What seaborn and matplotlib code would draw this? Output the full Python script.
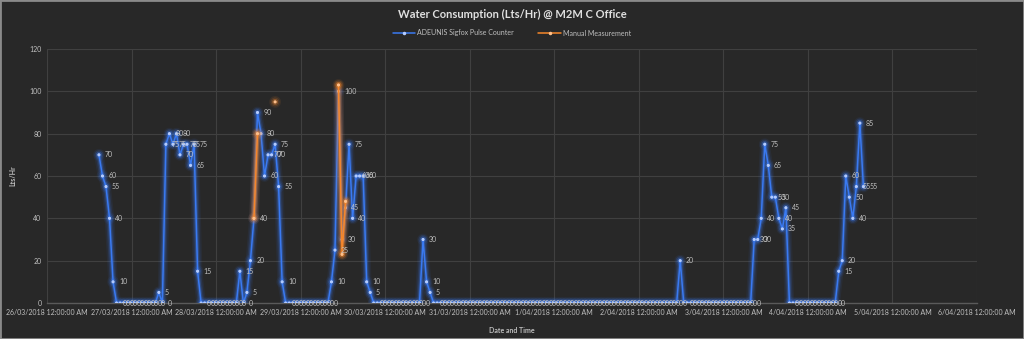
import matplotlib
matplotlib.use("Agg")
import matplotlib.pyplot as plt
import matplotlib.dates as mdates
import matplotlib.patheffects as pe
from matplotlib.lines import Line2D
from matplotlib.patches import Rectangle
import seaborn as sns
import pandas as pd
import numpy as np

# ---------------- data ----------------
start_time = "2018-03-26 14:45"
sensor_values = [
    70, 60, 55, 40, 10,
    0, 0, 0, 0, 0, 0, 0, 0, 0, 0, 0, 0,
    5, 0,
    75, 80, 75, 80, 70, 75, 75, 65, 75, 15,
    0, 0, 0, 0, 0, 0, 0, 0, 0, 0, 0,
    15, 0, 5, 20, 40, 90, 80, 60, 70, 70, 75, 55, 10,
    0, 0, 0, 0, 0, 0, 0, 0, 0, 0, 0, 0, 0,
    10, 25, 100, 30, 45, 75, 40, 60, 60, 60, 10, 5,
    0, 0, 0, 0, 0, 0, 0, 0, 0, 0, 0, 0, 0, 0,
    30, 10, 5,
    0, 0, 0, 0, 0, 0, 0, 0, 0, 0,
    0, 0, 0, 0, 0, 0, 0, 0, 0, 0,
    0, 0, 0, 0, 0, 0, 0, 0, 0, 0,
    0, 0, 0, 0, 0, 0, 0, 0, 0, 0,
    0, 0, 0, 0, 0, 0, 0, 0, 0, 0,
    0, 0, 0, 0, 0, 0, 0, 0, 0, 0,
    0, 0, 0, 0, 0, 0, 0, 0, 0, 0,
    20,
    0, 0, 0, 0, 0, 0, 0, 0, 0, 0,
    0, 0, 0, 0, 0, 0, 0, 0, 0, 0,
    30, 30, 40, 75, 65, 50, 50, 40, 35, 45,
    0, 0, 0, 0, 0, 0, 0, 0, 0, 0, 0, 0, 0, 0,
    15, 20, 60, 50, 40, 55, 85, 55,
]
manual_times = ["2018-03-28 10:45", "2018-03-28 11:45", "2018-03-28 16:45",
                "2018-03-29 10:45", "2018-03-29 11:45", "2018-03-29 12:45"]
manual_values = [40, 80, 95, 103, 23, 48]
manual_segment = [1, 1, 2, 3, 3, 3]

series_names = ["ADEUNIS Sigfox Pulse Counter", "Manual Measurement"]
title = "Water Consumption (Lts/Hr) @ M2M C Office"
x_label = "Date and Time"
y_label = "Lts/Hr"
day_ticks = pd.date_range("2018-03-26", "2018-04-06", freq="D")

# ---------------- frames ----------------
sensor_df = pd.DataFrame({
    "time": pd.date_range(start_time, periods=len(sensor_values), freq="h"),
    "value": sensor_values,
})
manual_df = pd.DataFrame({
    "time": pd.to_datetime(manual_times),
    "value": manual_values,
    "seg": manual_segment,
})

# ---------------- style ----------------
BG = "#282828"
GRID = "#404040"
TXT = "#bfbfbf"
BLUE = "#3a7af2"
BLUE_M = "#b4ccff"
ORANGE = "#f5862a"
ORANGE_M = "#ffc08a"
FONT = ["Lato", "DejaVu Sans"]

sns.set_theme(style="dark")
plt.rcParams["font.family"] = FONT

fig = plt.figure(figsize=(10.24, 3.39), dpi=100, facecolor=BG)
ax = fig.add_axes([47 / 1024, 1 - 303 / 339, (977 - 47) / 1024, (303 - 49) / 339])
ax.set_facecolor(BG)


def glow(color, a=1.0):
    return [pe.Stroke(linewidth=7, foreground=color, alpha=0.07 * a),
            pe.Stroke(linewidth=4.8, foreground=color, alpha=0.14 * a),
            pe.Stroke(linewidth=2.8, foreground=color, alpha=0.3 * a),
            pe.Normal()]


sns.lineplot(data=sensor_df, x="time", y="value", ax=ax, color=BLUE,
             linewidth=1.1, marker="o", markersize=1.5,
             markerfacecolor=BLUE_M, markeredgecolor=BLUE_M,
             legend=False, path_effects=glow(BLUE), zorder=3)
sns.lineplot(data=manual_df, x="time", y="value", units="seg", estimator=None,
             ax=ax, color=ORANGE, linewidth=1.1, marker="o", markersize=1.5,
             markerfacecolor=ORANGE_M, markeredgecolor=ORANGE_M,
             legend=False, path_effects=glow(ORANGE, 1.3), zorder=4)

# data labels for the pulse counter
for t, v in zip(sensor_df["time"], sensor_df["value"]):
    ax.annotate(str(v), xy=(mdates.date2num(t), v), xytext=(4.2, 0),
                textcoords="offset points", ha="left", va="center",
                fontsize=5, color=TXT, zorder=5)

# axes
ax.set_xlim(day_ticks[0], day_ticks[-1])
ax.set_ylim(0, 120)
ax.set_yticks(np.arange(0, 121, 20))
ax.set_xticks(day_ticks)
ax.set_xticklabels([f"{d.day}/{d.month:02d}/{d.year} 12:00:00 AM" for d in day_ticks])
ax.tick_params(axis="both", colors=TXT, labelsize=5, length=0, pad=4)
ax.grid(True, color=GRID, linewidth=0.8)
for side in ["top", "right", "left"]:
    ax.spines[side].set_visible(False)
ax.spines["bottom"].set_color("#5a5a5a")
ax.spines["bottom"].set_linewidth(1.0)
ax.set_xlabel(x_label, fontsize=5, color=TXT, fontweight="bold", labelpad=8)
ax.set_ylabel(y_label, fontsize=5, color=TXT, fontweight="bold", labelpad=9)

fig.text(0.5, 1 - 14 / 339, title, ha="center", va="center",
         fontsize=8, fontweight="bold", color="#e0e0e0")

handles = [
    Line2D([], [], color=BLUE, lw=1.1, marker="o", markersize=1.5,
           markerfacecolor=BLUE_M, markeredgecolor=BLUE_M),
    Line2D([], [], color=ORANGE, lw=1.1, marker="o", markersize=1.5,
           markerfacecolor=ORANGE_M, markeredgecolor=ORANGE_M),
]
leg = ax.legend(handles, series_names, loc="center",
                bbox_to_anchor=(0.5, 1 - 33 / 339), bbox_transform=fig.transFigure,
                ncol=2, frameon=False, fontsize=5, handlelength=3.2,
                columnspacing=3.5, handletextpad=0.3)
for t in leg.get_texts():
    t.set_color(TXT)

fig.patches.append(Rectangle((0, 0), 1, 1, transform=fig.transFigure,
                             fill=False, edgecolor="#8a8a8a", linewidth=2))

fig.savefig("out.png", dpi=100, facecolor=BG)
